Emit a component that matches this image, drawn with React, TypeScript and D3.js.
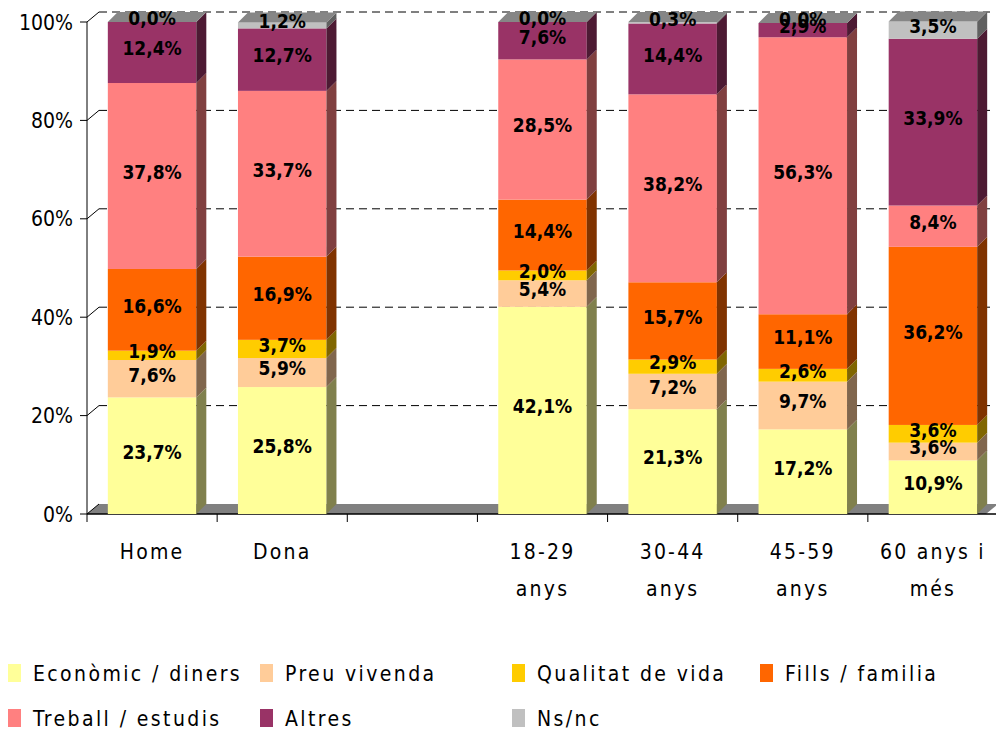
import * as d3 from 'd3';
import React from 'react';

// categories on the x axis ("" is the empty gap between the two groups)
const categories = ['Home', 'Dona', '', '18-29 anys', '30-44 anys', '45-59 anys', '60 anys i més'];
const categoryLines = [['Home'], ['Dona'], [], ['18-29', 'anys'], ['30-44', 'anys'], ['45-59', 'anys'], ['60 anys i', 'més']];

const seriesNames = ['Econòmic / diners', 'Preu vivenda', 'Qualitat de vida', 'Fills / familia', 'Treball / estudis', 'Altres', 'Ns/nc'];
const seriesColors = ['#FFFF99', '#FFCC99', '#FFCC00', '#FF6600', '#FF8080', '#993366', '#C0C0C0'];

const economic = [23.7, 25.8, null, 42.1, 21.3, 17.2, 10.9];
const preuVivenda = [7.6, 5.9, null, 5.4, 7.2, 9.7, 3.6];
const qualitat = [1.9, 3.7, null, 2.0, 2.9, 2.6, 3.6];
const fills = [16.6, 16.9, null, 14.4, 15.7, 11.1, 36.2];
const treball = [37.8, 33.7, null, 28.5, 38.2, 56.3, 8.4];
const altres = [12.4, 12.7, null, 7.6, 14.4, 2.9, 33.9];
const nsnc = [0.0, 1.2, null, 0.0, 0.3, 0.0, 3.5];

const yTicks = [0, 20, 40, 60, 80, 100];

const FONT = '"DejaVu Sans Condensed", "DejaVu Sans", Verdana, sans-serif';

function shade(c: string, f: number) {
  const r = d3.rgb(c);
  return d3.rgb(r.r * f, r.g * f, r.b * f).formatHex();
}

export default function App() {
  const width = 996;
  const height = 731;
  const x0 = 87, x1 = 998;
  const depth = 10; // bar depth offset
  const wallDx = 12, wallDy = 10; // back wall offset

  const allSeries = [economic, preuVivenda, qualitat, fills, treball, altres, nsnc];
  const rows = categories.map((c, i) => {
    const r: { [k: string]: any } = { cat: c };
    seriesNames.forEach((s, j) => { r[s] = allSeries[j][i] ?? 0; });
    return r;
  });
  const stacked = d3.stack<any>().keys(seriesNames)(rows);

  const x = d3.scaleBand<string>().domain(categories.map((c, i) => i + '')).range([x0, x1])
    .paddingInner(0.32).paddingOuter(0.16);
  const y = d3.scaleLinear().domain([0, 100]).range([514, 22]);
  const fmt = (v: number) => d3.format('.1f')(v).replace('.', ',') + '%';
  const bw = x.bandwidth();
  const step = x.step();
  const yBase = y(0);

  const bars: React.ReactNode[] = [];
  const labels: React.ReactNode[] = [];
  categories.forEach((c, i) => {
    if (allSeries[0][i] == null) return;
    const bx = x(i + '')!;
    stacked.forEach((layer, j) => {
      const [a, b] = layer[i];
      const ya = y(a), yb = y(b);
      const col = seriesColors[j];
      bars.push(
        <g key={`s${i}-${j}`}>
          <rect x={bx} y={yb} width={bw} height={ya - yb} fill={col} />
          <polygon
            points={`${bx + bw},${ya} ${bx + bw + depth},${ya - depth} ${bx + bw + depth},${yb - depth} ${bx + bw},${yb}`}
            fill={shade(col, 0.5)}
          />
        </g>
      );
      labels.push(
        <text key={`l${i}-${j}`} x={bx + bw / 2} y={(ya + yb) / 2 - 4} dy="0.36em" textAnchor="middle"
          fontFamily={FONT} fontWeight="bold" fontSize={19} fill="#000">
          {fmt(layer[i].data[seriesNames[j]])}
        </text>
      );
    });
    const top = stacked[stacked.length - 1][i][1];
    const yt = y(top);
    bars.push(
      <polygon key={`t${i}`}
        points={`${bx},${yt} ${bx + depth},${yt - depth} ${bx + bw + depth},${yt - depth} ${bx + bw},${yt}`}
        fill={shade(seriesColors[seriesColors.length - 1], 0.7)} />
    );
  });

  const legendCols = [8, 260, 512, 760];
  const legendRows = [673, 718];

  return (
    <svg width={width} height={height} style={{ position: 'absolute', left: 0, top: 0, background: '#fff' }}>
      {/* floor */}
      <polygon points={`${x0},${yBase} ${x0 + wallDx},${yBase - wallDy} ${x1},${yBase - wallDy} ${x1 - wallDx},${yBase}`} fill="#808080" />
      {/* grid lines on back wall */}
      {yTicks.map(t => (
        <g key={`g${t}`}>
          {t > 0 && (
            <line x1={x0 + wallDx} x2={990} y1={y(t) - wallDy} y2={y(t) - wallDy} stroke="#000" strokeWidth={1} strokeDasharray="8,5" />
          )}
          <line x1={x0} x2={x0 + wallDx} y1={y(t)} y2={y(t) - wallDy} stroke="#000" strokeWidth={1} />
          <line x1={x0 - 7} x2={x0} y1={y(t)} y2={y(t)} stroke="#000" strokeWidth={1} />
          <text x={73} y={y(t)} dy="0.36em" textAnchor="end" fontFamily={FONT} fontSize={21} fill="#000">{t}%</text>
        </g>
      ))}
      <line x1={x0} x2={x0} y1={y(100)} y2={yBase} stroke="#000" strokeWidth={1} />
      <line x1={x0} x2={x1} y1={yBase} y2={yBase} stroke="#000" strokeWidth={1.5} />
      {categories.map((c, i) => (
        <line key={`xt${i}`} x1={x0 + i * step} x2={x0 + i * step} y1={yBase} y2={yBase + 8} stroke="#000" strokeWidth={1} />
      ))}
      {bars}
      {labels}
      {categoryLines.map((lines, i) => (
        <text key={`c${i}`} textAnchor="middle" fontFamily={FONT} fontSize={21} letterSpacing={2.2} fill="#000">
          {lines.map((ln, k) => (
            <tspan key={k} x={x(i + '')! + bw / 2} y={559 + k * 37}>{ln}</tspan>
          ))}
        </text>
      ))}
      {seriesNames.map((s, j) => {
        const lx = legendCols[j % 4];
        const ly = legendRows[Math.floor(j / 4)];
        return (
          <g key={`lg${j}`}>
            <rect x={lx} y={ly - 9} width={13} height={18} fill={seriesColors[j]} />
            <text x={lx + 25} y={ly} dy="0.36em" fontFamily={FONT} fontSize={21} letterSpacing={2.4} fill="#000">{s}</text>
          </g>
        );
      })}
    </svg>
  );
}
